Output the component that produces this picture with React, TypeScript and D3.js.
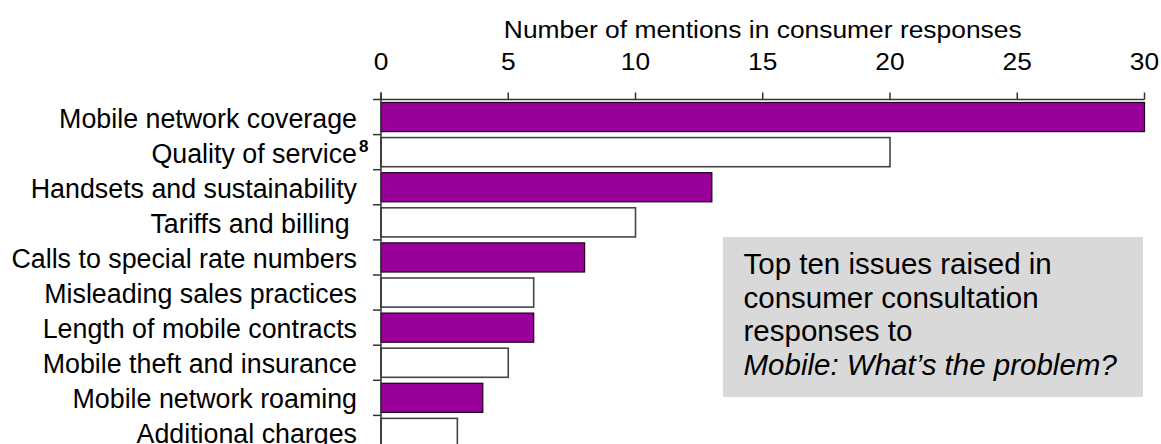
import React from "react";
import * as d3 from "d3";

const categories = [
  "Mobile network coverage",
  "Quality of service",
  "Handsets and sustainability",
  "Tariffs and billing ",
  "Calls to special rate numbers",
  "Misleading sales practices",
  "Length of mobile contracts",
  "Mobile theft and insurance",
  "Mobile network roaming",
  "Additional charges",
];
const mentions = [30, 20, 13, 10, 8, 6, 6, 5, 4, 3];
const highlighted = [true, false, true, false, true, false, true, false, true, false];
const superscripts = ["", "8", "", "", "", "", "", "", "", ""];
const xTicks = [0, 5, 10, 15, 20, 25, 30];
const axisTitle = "Number of mentions in consumer responses";
const boxLines = [
  { text: "Top ten issues raised in", italic: false },
  { text: "consumer consultation", italic: false },
  { text: "responses to", italic: false },
  { text: "Mobile: What\u2019s the problem?", italic: true },
];

const W = 1161;
const H = 444;
const FONT = "'Liberation Sans', Arial, Helvetica, sans-serif";
const PURPLE = "#990099";

export default function App() {
  const left = 381;
  const right = 1144.5;
  const top = 99.5;
  const step = 35.1;
  const x = d3.scaleLinear().domain([0, 30]).range([left, right]);
  const y = d3
    .scaleBand<string>()
    .domain(categories)
    .range([top, top + step * categories.length])
    .paddingInner(0.17)
    .paddingOuter(0.085);
  const bandStep = y.step();
  const boundaries = d3.range(categories.length + 1).map((i) => top + i * bandStep);

  return (
    <svg
      width={W}
      height={H}
      style={{ position: "absolute", left: 0, top: 0, background: "#fff" }}
      fontFamily={FONT}
    >
      {/* axis title */}
      <g transform={`translate(${(left + right) / 2},37.7) scale(1.1,1)`}>
        <text x={0} y={0} fontSize={24} textAnchor="middle" fill="#000">
          {axisTitle}
        </text>
      </g>
      {/* x tick labels */}
      {xTicks.map((t) => (
        <g key={"xl" + t} transform={`translate(${x(t)},70) scale(1.12,1)`}>
          <text x={0} y={0} fontSize={23.5} textAnchor="middle" fill="#000">
            {t}
          </text>
        </g>
      ))}
      {/* bars */}
      {categories.map((c, i) => (
        <rect
          key={c}
          x={x(0)}
          y={y(c)}
          width={x(mentions[i]) - x(0)}
          height={y.bandwidth()}
          fill={highlighted[i] ? PURPLE : "#fff"}
          stroke={highlighted[i] ? "#1a001a" : "#444"}
          strokeWidth={highlighted[i] ? 1.2 : 1.6}
        />
      ))}
      {/* x axis */}
      <line x1={left} x2={right} y1={top} y2={top} stroke="#333" strokeWidth={1.5} />
      {xTicks.map((t) => (
        <line key={"xt" + t} x1={x(t)} x2={x(t)} y1={top} y2={top - 7} stroke="#333" strokeWidth={1.5} />
      ))}
      {/* y axis */}
      <line x1={left} x2={left} y1={top - 7} y2={H + 10} stroke="#333" strokeWidth={1.5} />
      {boundaries.map((b, i) => (
        <line key={"yt" + i} x1={left - 8} x2={left} y1={b} y2={b} stroke="#333" strokeWidth={1.5} />
      ))}
      {/* category labels */}
      {categories.map((c, i) => {
        const cy = (y(c) as number) + y.bandwidth() / 2;
        return (
          <g key={"lab" + c}>
            <text
              x={357}
              y={cy + 10.5}
              fontSize={26.8}
              textAnchor="end"
              fill="#000"
              style={{ whiteSpace: "pre" }}
            >
              {c}
            </text>
            {superscripts[i] && (
              <text x={359} y={cy} fontSize={17} fontWeight="bold" fill="#000">
                {superscripts[i]}
              </text>
            )}
          </g>
        );
      })}
      {/* annotation box */}
      <rect x={723} y={237} width={420} height={160} fill="#d9d9d9" />
      {boxLines.map((l, i) => (
        <text
          key={"bl" + i}
          x={743.5}
          y={274.3 + i * 33.4}
          fontSize={29.5}
          fontStyle={l.italic ? "italic" : "normal"}
          fill="#000"
        >
          {l.text}
        </text>
      ))}
    </svg>
  );
}
